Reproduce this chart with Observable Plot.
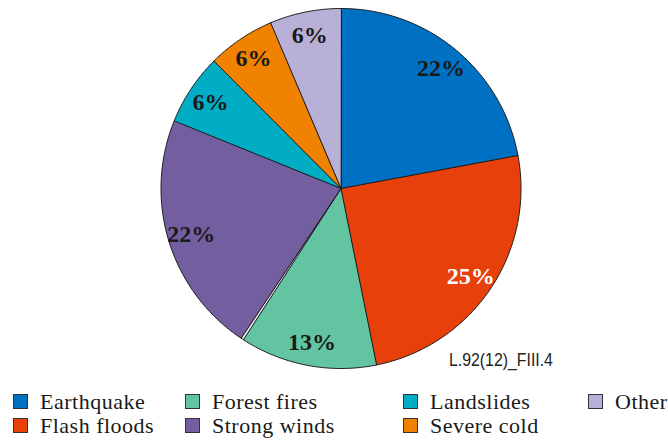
<!DOCTYPE html>
<html>
<head>
<meta charset="utf-8">
<script src="https://cdn.jsdelivr.net/npm/d3@7"></script>
<script src="https://cdn.jsdelivr.net/npm/@observablehq/plot@0.6"></script>
<style>
  body { margin: 0; background: #fff; }
  #wrap { position: relative; width: 668px; height: 441px; overflow: hidden; }
  #note { position: absolute; left: 449px; top: 351px; font: 18px "Liberation Sans", Arial, sans-serif; line-height: 18px; color: #222; transform: scaleX(0.88); transform-origin: left top; white-space: nowrap; }
  #legend { position: absolute; left: 13px; top: 390px; display: grid;
    grid-template-columns: 172px 218px 185px 80px; font: 22px "Liberation Serif", "Times New Roman", serif; letter-spacing: 0.5px; color: #1a1a1a; line-height: 24px; }
  .item { display: flex; align-items: center; white-space: nowrap; }
  .sw { width: 13px; height: 13px; border: 1px solid #333; margin-right: 12px; flex: none; position: relative; top: -1px; }
  .pielabels text { font-family: "Liberation Serif", "Times New Roman", serif !important; font-weight: bold; }
</style>
</head>
<body>
<div id="wrap">
  <div id="chart"></div>
  <div id="note">L.92(12)_FIII.4</div>
  <div id="legend"></div>
</div>
<script>
const categories = ["Earthquake", "Flash floods", "Forest fires", "", "Strong winds", "Landslides", "Severe cold", "Other"];
const values = [22.1, 24.8, 12.3, 0.25, 21.8, 6.4, 6.1, 6.4];
const labels = ["22%", "25%", "13%", "", "22%", "6%", "6%", "6%"];
const colors = ["#0070c2", "#e8400a", "#63c4a2", "#e4e4e4", "#735ea0", "#00adc4", "#f08200", "#b9b0d8"];
const legendOrder = ["Earthquake", "Forest fires", "Landslides", "Other", "Flash floods", "Strong winds", "Severe cold"];

const data = categories.map((name, i) => ({name, value: values[i], label: labels[i], color: colors[i]}));
const arcs = d3.pie().sort(null).value(d => d.value).startAngle(0).endAngle(2 * Math.PI)(data);

// polygon points for each slice in unit-circle coordinates
const poly = [];
arcs.forEach((a, i) => {
  const n = Math.max(2, Math.ceil((a.endAngle - a.startAngle) / 0.01));
  poly.push({k: i, x: 0, y: 0, name: a.data.name});
  for (let j = 0; j <= n; j++) {
    const t = a.startAngle + (a.endAngle - a.startAngle) * j / n;
    poly.push({k: i, x: Math.sin(t), y: Math.cos(t), name: a.data.name});
  }
});
const labelR = 0.87;
const labelPts = arcs.filter(a => a.data.label).map(a => {
  const m = (a.startAngle + a.endAngle) / 2;
  return {x: labelR * Math.sin(m), y: labelR * Math.cos(m), label: a.data.label, name: a.data.name};
});

const cx = 340.5, cy = 188, R = 180;
const chart = Plot.plot({
  width: 668,
  height: 380,
  x: {domain: [-1, 1], range: [cx - R, cx + R], axis: null},
  y: {domain: [-1, 1], range: [cy + R, cy - R], axis: null},
  color: {domain: categories, range: colors},
  marks: [
    Plot.line(poly, {x: "x", y: "y", z: "k", fill: "name", stroke: "#1a1a1a", strokeWidth: 1, curve: "linear-closed"}),
    Plot.text(labelPts, {x: "x", y: "y", text: "label", className: "pielabels",
      fill: d => d.name === "Flash floods" ? "white" : "#1a1a1a",
      fontSize: 24, fontWeight: "bold", fontFamily: "'Liberation Serif', 'Times New Roman', serif"})
  ]
});
document.getElementById("chart").appendChild(chart);

const leg = document.getElementById("legend");
legendOrder.forEach(name => {
  const it = document.createElement("div");
  it.className = "item";
  const sw = document.createElement("span");
  sw.className = "sw";
  sw.style.background = colors[categories.indexOf(name)];
  it.appendChild(sw);
  it.appendChild(document.createTextNode(name));
  leg.appendChild(it);
});
</script>
</body>
</html>
